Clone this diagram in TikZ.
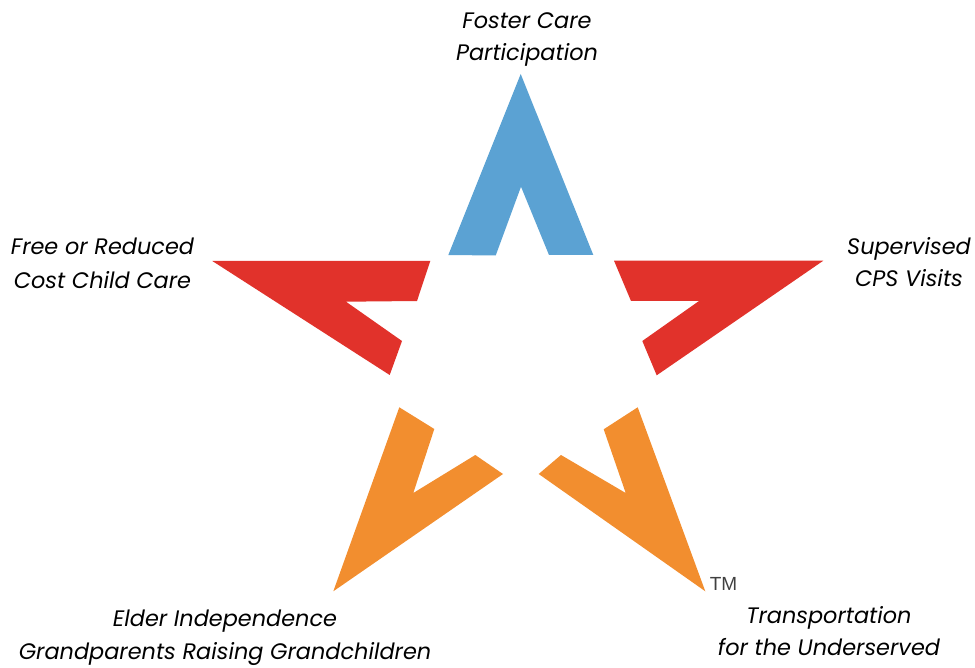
\documentclass[tikz,border=0pt]{standalone}
\usepackage{fontspec}
\setmainfont{Poppins}
\newfontfamily\tmfont{Liberation Sans}
\definecolor{starblue}{HTML}{5BA2D3}
\definecolor{starred}{HTML}{E1322B}
\definecolor{starorange}{HTML}{F28E2F}
\definecolor{tmgray}{HTML}{404040}
\tikzset{
  lbl/.style={font=\fontsize{22.4}{32}\selectfont\itshape, align=center, text=black, inner sep=0pt},
  arm/.style={draw=none}
}
\begin{document}
\begin{tikzpicture}[x=1pt,y=-1pt]
\useasboundingbox (0,0) rectangle (975,668);
\fill[arm,starblue] (520.7,74) -- (593.3,255) -- (549,255) -- (521,186.7) -- (495.7,255.5) -- (448.3,255) -- cycle;
\fill[arm,starred] (212.3,261) -- (430.3,261) -- (417,301) -- (346,301.7) -- (402,341) -- (389.7,375) -- cycle;
\fill[arm,starred] (823.3,260.7) -- (614,260.7) -- (631,301) -- (699,301) -- (642.3,341) -- (656.7,375.3) -- cycle;
\fill[arm,starorange] (399.3,407.3) -- (434.3,429) -- (413.3,493) -- (475.3,455) -- (503,474) -- (333.3,591.3) -- cycle;
\fill[arm,starorange] (637.7,407.3) -- (603.7,429.3) -- (625.7,493) -- (561,455) -- (538.7,474) -- (705.3,591.3) -- cycle;
\node[lbl] (foster) at (527,39.5) {Foster Care\\Participation};
\node[lbl] (free) at (102.5,263) {Free or Reduced\\[2pt]Cost Child Care};
\node[lbl] (cps) at (909,262) {Supervised\\CPS Visits};
\node[lbl] (elder) at (225,638) {Elder Independence\\[1pt]Grandparents Raising Grandchildren};
\node[lbl] (trans) at (829,631) {Transportation\\for the Underserved};
\node[inner sep=0pt, text=tmgray, font=\tmfont\fontsize{19}{19}\selectfont] (tm) at (723.5,584) {TM};
\end{tikzpicture}
\end{document}
